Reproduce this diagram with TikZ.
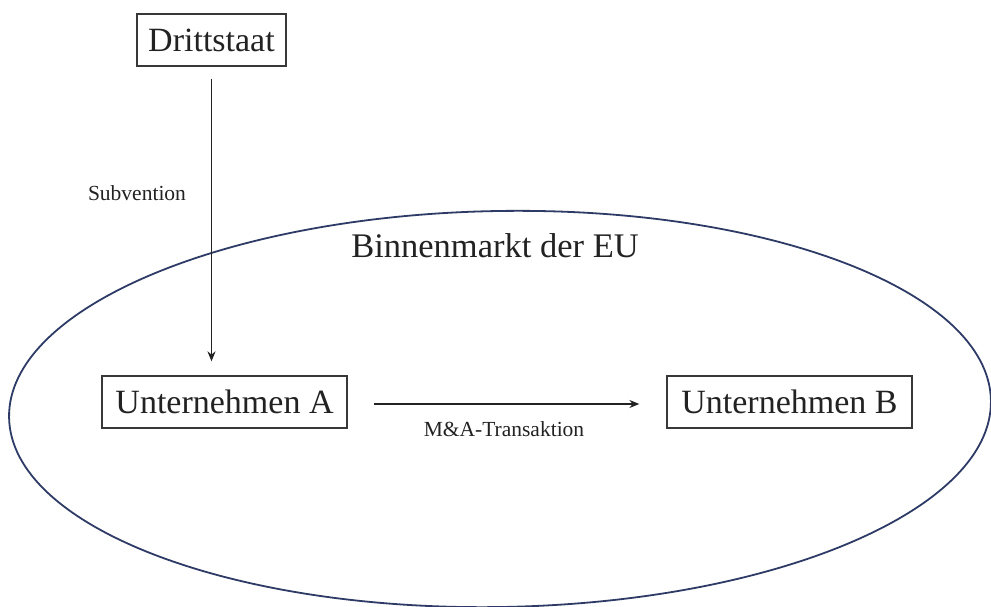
\documentclass[tikz,border=0pt]{standalone}
\usepackage{fontspec}
\setmainfont{Liberation Serif}
\usetikzlibrary{shapes.geometric,arrows.meta}
\definecolor{navy}{HTML}{2E3B66}
\definecolor{ink}{HTML}{222222}
\tikzset{
  box/.style={draw=ink!90, line width=1.3pt, inner sep=0pt, minimum height=52pt, font=\fontsize{34}{40}\selectfont, text=ink},
  small/.style={font=\fontsize{21.5}{26}\selectfont, text=ink, inner sep=0pt},
  big/.style={font=\fontsize{34.5}{40}\selectfont, text=ink, inner sep=0pt},
  arr/.style={draw=ink, line width=1.3pt, -{Stealth[length=10pt,width=8pt]}},
  eu/.style={ellipse, draw=navy, line width=1.8pt, inner sep=0pt}
}
\begin{document}
\begin{tikzpicture}[x=1pt,y=-1pt]
\useasboundingbox (0,0) rectangle (991,607);
\node[eu, minimum width=982pt, minimum height=396pt, rotate=1] (eu) at (500,409) {};
\node[big] (lbl) at (495,246) {Binnenmarkt der EU};
\node[box, minimum width=149pt] (D) at (211.5,40) {Drittstaat};
\node[box, minimum width=245pt] (A) at (224.5,402) {Unternehmen A};
\node[box, minimum width=245pt] (B) at (789.5,402) {Unternehmen B};
\node[small] (sub) at (137,193) {Subvention};
\node[small] (ma) at (504,429) {M\&A-Transaktion};
\draw[arr, shorten <=12pt, shorten >=14pt] (D.south) -- (D.south |- A.north);
\draw[arr, shorten <=26pt, shorten >=27pt] ([yshift=-2pt]A.east) -- ([yshift=-2pt]B.west);
\end{tikzpicture}
\end{document}
